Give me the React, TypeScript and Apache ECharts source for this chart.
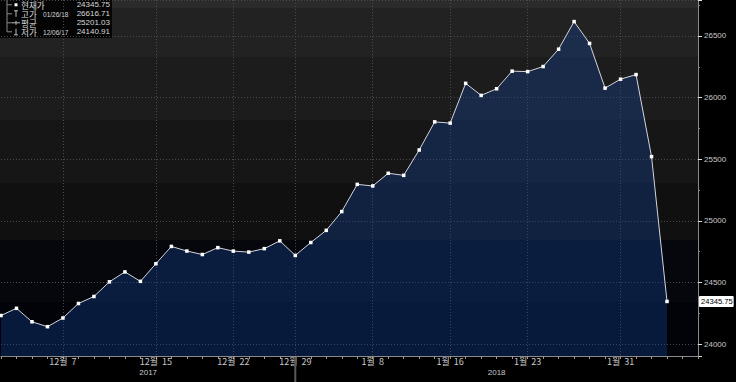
import React, { useEffect, useRef } from "react";
import * as echarts from "echarts";

// ---- data ----
const dates: string[] = [
  "2017-12-01", "2017-12-04", "2017-12-05", "2017-12-06", "2017-12-07", "2017-12-08",
  "2017-12-11", "2017-12-12", "2017-12-13", "2017-12-14", "2017-12-15",
  "2017-12-18", "2017-12-19", "2017-12-20", "2017-12-21", "2017-12-22",
  "2017-12-26", "2017-12-27", "2017-12-28", "2017-12-29",
  "2018-01-02", "2018-01-03", "2018-01-04", "2018-01-05",
  "2018-01-08", "2018-01-09", "2018-01-10", "2018-01-11", "2018-01-12",
  "2018-01-16", "2018-01-17", "2018-01-18", "2018-01-19",
  "2018-01-22", "2018-01-23", "2018-01-24", "2018-01-25", "2018-01-26",
  "2018-01-29", "2018-01-30", "2018-01-31", "2018-02-01", "2018-02-02",
  "2018-02-05",
];
const futureDates: string[] = ["2018-02-06", "2018-02-07"];
const closes: number[] = [
  24231.59, 24290.05, 24180.64, 24140.91, 24211.48, 24329.16,
  24386.03, 24504.8, 24585.43, 24508.66, 24651.74,
  24792.2, 24754.75, 24726.65, 24782.29, 24754.06,
  24746.21, 24774.3, 24837.51, 24719.22,
  24824.01, 24922.68, 25075.13, 25295.87,
  25283.0, 25385.8, 25369.13, 25574.73, 25803.19,
  25792.86, 26115.65, 26017.81, 26071.72,
  26214.6, 26210.81, 26252.12, 26392.79, 26616.71,
  26439.48, 26076.89, 26149.39, 26186.71, 25520.96,
  24345.75,
];
const labeledDates: string[] = [
  "2017-12-07", "2017-12-15", "2017-12-22", "2017-12-29",
  "2018-01-08", "2018-01-16", "2018-01-23", "2018-01-31",
];
const yAxisMin = 23903;
const yAxisMax = 26792;
const legendNames: string[] = ["현재가", "고가", "평균", "저가"];

// ---- helpers ----
const fmtTick = (d: string) => {
  const [, m, dd] = d.split("-");
  return `${+m}월  ${+dd}`;
};
const fmtUS = (d: string) => {
  const [y, m, dd] = d.split("-");
  return `${m}/${dd}/${y.slice(2)}`;
};

const W = 736;
const H = 382;
const GRID = { left: 1, right: 38, top: 0, bottom: 26 };

export default function App() {
  const ref = useRef<HTMLDivElement>(null);

  useEffect(() => {
    if (!ref.current) return;
    const chart = echarts.init(ref.current, null, { renderer: "svg", width: W, height: H });

    const categories = dates.concat(futureDates);
    const plotW = W - GRID.left - GRID.right;
    const plotH = H - GRID.top - GRID.bottom;
    const step = plotW / (categories.length - 1);
    const xAt = (i: number) => GRID.left + i * step;

    const last = closes[closes.length - 1];
    let maxI = 0;
    let minI = 0;
    closes.forEach((v, i) => {
      if (v > closes[maxI]) maxI = i;
      if (v < closes[minI]) minI = i;
    });
    const avg = closes.reduce((a, b) => a + b, 0) / closes.length;

    // year spans
    const years: { year: string; first: number; last: number }[] = [];
    dates.forEach((d, i) => {
      const y = d.slice(0, 4);
      const cur = years[years.length - 1];
      if (!cur || cur.year !== y) years.push({ year: y, first: i, last: i });
      else cur.last = i;
    });
    years[years.length - 1].last = categories.length - 2;

    // background bands
    const bands: [number, number, string][] = [
      [0, 8, "#2b2b2b"],
      [8, 57, "#222222"],
      [57, 120, "#1c1c1c"],
      [120, 183, "#161616"],
      [183, 240, "#101010"],
      [240, 302, "#05070d"],
      [302, 356, "#010309"],
    ];
    const stops: { offset: number; color: string }[] = [];
    bands.forEach(([a, b, c]) => {
      stops.push({ offset: a / plotH, color: c });
      stops.push({ offset: Math.min(1, b / plotH), color: c });
    });

    const textFont = (size: number) => `${size}px "Liberation Sans", "Noto Sans CJK KR", sans-serif`;
    const krFont = (size: number) => `${size}px "Noto Sans CJK KR", sans-serif`;

    const rowY = (i: number) => 4.8 + i * 9;
    const legendChildren: any[] = [
      { type: "rect", shape: { x: 0, y: 0, width: 112, height: 38 }, style: { fill: "rgba(0,0,0,0.88)" } },
      { type: "line", shape: { x1: 7, y1: 0, x2: 7, y2: rowY(3) }, style: { stroke: "#8a8a8a", lineWidth: 1 } },
    ];
    const values = [last.toFixed(2), closes[maxI].toFixed(2), avg.toFixed(2), closes[minI].toFixed(2)];
    const dateTxt = ["", fmtUS(dates[maxI]), "", fmtUS(dates[minI])];
    legendNames.forEach((name, i) => {
      const y = rowY(i);
      legendChildren.push({ type: "line", shape: { x1: 7, y1: y, x2: 12, y2: y }, style: { stroke: "#8a8a8a", lineWidth: 1 } });
      legendChildren.push({
        type: "text", x: 21, y,
        style: { text: name, font: krFont(8.6), lineHeight: 8.6, fill: "#d8d8d8", verticalAlign: "middle" },
      });
      if (dateTxt[i]) {
        legendChildren.push({
          type: "text", x: 43, y, scaleX: 0.82,
          style: { text: dateTxt[i], font: textFont(8), lineHeight: 8, fill: "#d8d8d8", verticalAlign: "middle" },
        });
      }
      legendChildren.push({
        type: "text", x: 110, y,
        style: { text: values[i], font: textFont(8), lineHeight: 8, fill: "#d8d8d8", align: "right", verticalAlign: "middle" },
      });
    });
    // icons
    legendChildren.push({ type: "rect", shape: { x: 14.5, y: rowY(0) - 1.5, width: 3, height: 3 }, style: { fill: "#ffffff" } });
    legendChildren.push({ type: "line", shape: { x1: 14, y1: rowY(1) - 3, x2: 18, y2: rowY(1) - 3 }, style: { stroke: "#bbb" } });
    legendChildren.push({ type: "line", shape: { x1: 16, y1: rowY(1) - 3, x2: 16, y2: rowY(1) + 3 }, style: { stroke: "#bbb" } });
    legendChildren.push({ type: "line", shape: { x1: 12, y1: rowY(2), x2: 20, y2: rowY(2) }, style: { stroke: "#bbb" } });
    legendChildren.push({ type: "line", shape: { x1: 16, y1: rowY(2) - 2, x2: 16, y2: rowY(2) + 2 }, style: { stroke: "#bbb" } });
    legendChildren.push({ type: "line", shape: { x1: 14, y1: rowY(3) + 3, x2: 18, y2: rowY(3) + 3 }, style: { stroke: "#bbb" } });
    legendChildren.push({ type: "line", shape: { x1: 16, y1: rowY(3) - 3, x2: 16, y2: rowY(3) + 3 }, style: { stroke: "#bbb" } });

    const sepIdx = years[0].last;
    const graphics: any[] = [
      {
        type: "rect",
        z: -10,
        shape: { x: GRID.left - 1, y: GRID.top, width: plotW + 1, height: plotH },
        style: { fill: new echarts.graphic.LinearGradient(0, 0, 0, 1, stops) },
        silent: true,
      },
      {
        type: "line",
        z: 10,
        shape: { x1: xAt(sepIdx), y1: H - GRID.bottom + 1, x2: xAt(sepIdx), y2: H },
        style: { stroke: "#5a5a5a", lineWidth: 2 },
      },
      ...years.map((yr) => ({
        type: "text",
        z: 10,
        x: xAt((yr.first + yr.last) / 2),
        y: H - 10,
        style: { text: yr.year, font: textFont(8), fill: "#c8c8c8", align: "center", verticalAlign: "middle" },
      })),
      { type: "group", z: 100, children: legendChildren },
    ];

    const option: any = {
      animation: false,
      backgroundColor: "#000000",
      grid: { ...GRID, containLabel: false },
      xAxis: {
        type: "category",
        data: categories,
        boundaryGap: false,
        axisLine: { lineStyle: { color: "#8a8a8a", width: 1 } },
        axisTick: { show: true, interval: 0, length: 3, lineStyle: { color: "#9a9a9a" } },
        axisLabel: {
          interval: (_i: number, v: string) => labeledDates.includes(v),
          formatter: (v: string) => fmtTick(v),
          color: "#c8c8c8",
          fontSize: 9,
          fontFamily: '"Noto Sans CJK KR", sans-serif',
          margin: 1,
        },
        splitLine: {
          show: true,
          interval: (_i: number, v: string) => labeledDates.includes(v),
          lineStyle: { color: "#4a4a4a", type: [1, 2], width: 1 },
        },
      },
      yAxis: {
        type: "value",
        position: "right",
        min: yAxisMin,
        max: yAxisMax,
        splitNumber: 6,
        scale: true,
        axisLine: { show: true, lineStyle: { color: "#8a8a8a", width: 1 } },
        axisTick: { show: true, length: 4, lineStyle: { color: "#e0e0e0" } },
        minorTick: { show: true, splitNumber: 2, length: 2, lineStyle: { color: "#8a8a8a" } },
        axisLabel: {
          showMinLabel: false,
          showMaxLabel: false,
          formatter: (v: number) => String(v),
          color: "#c8c8c8",
          fontSize: 8,
          fontFamily: '"Liberation Sans", sans-serif',
          margin: 6,
        },
        splitLine: { show: true, lineStyle: { color: "#4a4a4a", type: [1, 2], width: 1 } },
      },
      graphic: graphics,
      series: [
        {
          type: "line",
          data: closes,
          clip: false,
          symbol: "rect",
          symbolSize: 3.5,
          showAllSymbol: true,
          itemStyle: { color: "#ffffff" },
          lineStyle: { color: "#d4d4dc", width: 1 },
          areaStyle: { color: "rgba(20,64,142,0.55)", origin: "start" },
          emphasis: { disabled: true },
          markLine: {
            silent: true,
            symbol: ["none", "none"],
            lineStyle: { color: "rgba(0,0,0,0)", width: 0, opacity: 1 },
            data: [{ yAxis: last }],
            label: {
              show: true,
              position: "end",
              distance: 1,
              opacity: 1,
              formatter: () => last.toFixed(2),
              backgroundColor: "#ffffff",
              color: "#000000",
              fontSize: 7.6,
              fontFamily: '"Liberation Sans", sans-serif',
              padding: [2, 1, 1, 2],
              borderRadius: 1,
            },
          },
        },
      ],
    };

    chart.setOption(option);
    return () => chart.dispose();
  }, []);

  return <div ref={ref} style={{ width: W, height: H, position: "absolute", left: 0, top: 0 }} />;
}
